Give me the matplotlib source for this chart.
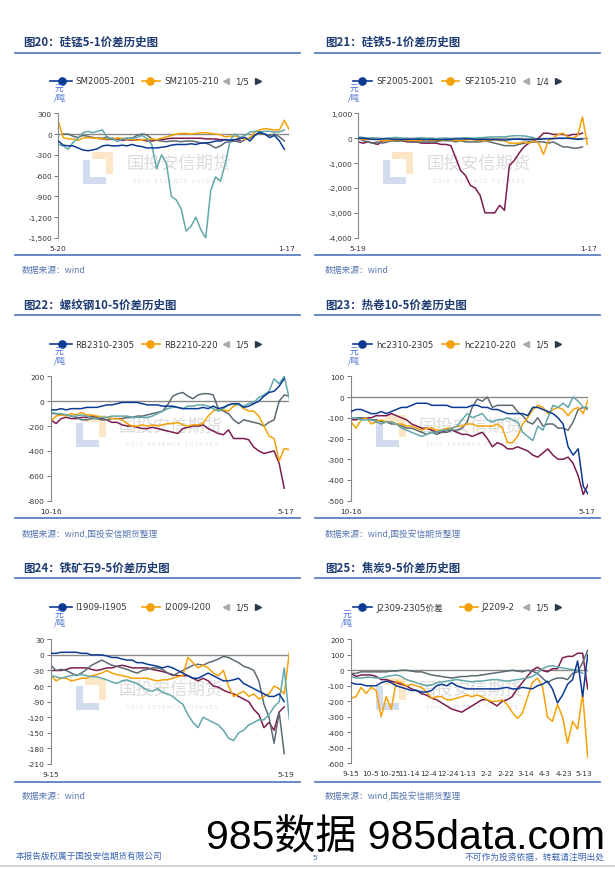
import numpy as np
import matplotlib
matplotlib.use('Agg')
import matplotlib.pyplot as plt
from matplotlib.lines import Line2D
from matplotlib.patches import Polygon
from matplotlib.ticker import FuncFormatter

plt.rcParams['font.family'] = ['DejaVu Sans', 'Noto Sans CJK SC']
plt.rcParams['axes.unicode_minus'] = False

nan = None

# ---------------- data ----------------
# Fig 20: silicon manganese 5-1 spread
sm_blue = [-100, -160, -170, -170, -200, -230, -240, -230, -210, -170, -160, -170, -170, -160, -170, -150,
           -170, -180, -200, -200, -200, -190, -180, -160, -150, -150, -150, -140, -150, -130, -130, -120,
           -100, -100, -80, -90, -80, -60, -50, -100, -20, 30, 0, -50, -20, -100, -220]
sm_orange = [180, -50, -70, -70, -90, -60, -50, -60, -60, -70, -70, -60, -60, -60, -70, -80, -90, -80, -80,
             -70, -80, -60, -40, -20, 0, 10, 10, 0, 10, 20, 20, 10, 0, -10, -40, -30, -30, -50, -80, -50,
             30, 60, 80, 70, 60, 60, 200, 60]
sm_maroon = [nan, nan, nan, nan, nan, nan, nan, nan, -60, -70, -80, -70, -70, -90, -80, -90, -80, -80, -100,
             -100, -90, -80, -70, -60, -60, -60, -60, -60, -60, -60, -70, -70, -70, -80, -80, -90, -80, -90]
sm_gray = [nan, 0, 0, -30, -50, -20, -30, -50, -60, -60, -40, -80, -60, -70, -60, -60, -20, 0, -10, -70, -90,
           -100, -110, -100, -100, -110, -100, -100, -110, -130, -130, -160, -200, -170, -120, -110, -100,
           -120, -80, -60, -10, 10, 0, -20, 0, -40, -100]
sm_teal = [-150, -170, -220, -120, -60, 20, 40, 20, 40, 60, -60, -60, -110, -70, -60, -60, -50, -20, -60,
           -150, -500, -300, -420, -900, -950, -1080, -1400, -1330, -1200, -1380, -1500, -820, -620, -680,
           -420, -80, 0, -50, -20, 30, 40, 30, 40, 40, 30, 30, 60]

# Fig 21: ferrosilicon 5-1 spread
sf_blue = [0, 0, -30, -50, -50, -30, -20, -50, -60, -50, -50, -40, -40, -50, -60, -50, -60, -60, -50, -40,
           -30, -30, -30, -30, -50, -50, -50, -60, -60, -60, -80, -60, -40, -40, -60, -60, -50, -50, -30,
           -20, -20, 0, 0, 0, -20, -50, -30]
sf_orange = [0, -50, -50, -30, -50, -100, -100, -80, -100, -50, -100, -80, -100, -100, -50, -100, -80, -100,
             -50, -50, -100, -100, -80, -50, -80, -100, -100, -100, -50, -100, -100, -200, -200, -200, -150,
             -200, -100, -200, -650, -100, 0, 150, 200, 50, 0, 100, 850, -250]
sf_maroon = [-150, -200, -150, -200, -250, -100, -100, -100, -100, -100, -150, -150, -150, -200, -200, -200,
             -200, -250, -250, -300, -800, -1300, -1500, -1900, -2000, -2300, -3000, -3000, -3000, -2700,
             -2900, -1100, -900, -600, -350, -200, -100, 0, 200, 200, 150, 150, 150, 100, 150, 150, 200]
sf_gray = [0, -100, -150, -200, -150, -200, -150, -100, -120, -100, -100, -150, -150, -150, -150, -150, -150,
           -100, -100, -100, -150, -100, -150, -150, -150, -150, -100, -150, -200, -250, -300, -300, -300,
           -250, -200, -150, -150, -150, -150, -200, -150, -250, -350, -350, -400, -400, -350]
sf_teal = [50, 30, 0, 20, 0, -20, 0, 20, 30, 0, 0, -20, 0, 20, 0, 0, -20, 0, 0, -20, 0, 0, 20, 0, 0, 20, 30,
           50, 50, 60, 50, 80, 100, 100, 90, 60, 20]

# Fig 22: rebar 10-5 spread
rb_blue = [-70, -70, -60, -70, -60, -60, -60, -50, -50, -50, -40, -30, -30, -20, -10, -10, -10, -10, -20, -30,
           -30, -30, -40, -40, -40, -50, -60, -60, -60, -60, -50, -60, -40, -60, -50, -30, -20, -20, -50, -40,
           -20, 0, 40, 70, 80, 120, 180]
rb_orange = [-160, -120, -110, -120, -100, -110, -90, -110, -110, -120, -130, -130, -140, -140, -150, -180,
             -200, -200, -190, -200, -190, -200, -190, -180, -180, -170, -190, -200, -190, -190, -180, -120,
             -80, -60, -70, -80, -40, -20, -60, -80, -80, -120, -200, -280, -300, -480, -380, -390]
rb_maroon = [-150, -180, -140, -130, -140, -140, -130, -130, -120, -130, -140, -150, -170, -170, -190, -200,
             -200, -210, -220, -220, -210, -220, -230, -240, -250, -260, -220, -210, -200, -200, -190, -220,
             -240, -260, -270, -230, -300, -300, -300, -310, -370, -400, -420, -410, -400, -500, -700]
rb_gray = [-100, -100, -110, -110, -120, -130, -150, -150, -140, -140, -150, -150, -140, -140, -140, -130,
           -130, -120, -120, -110, -100, -90, -80, -30, 40, 60, 70, 40, 20, 50, 60, 60, 50, -60, -80, -100,
           -150, -180, -150, -160, -170, -180, -200, -170, -150, 0, 50, 40]
rb_teal = [-90, -100, -100, -110, -120, -120, -110, -120, -130, -140, -130, -130, -120, -120, -120, -120,
           -130, -130, -130, -130, -120, -100, -80, -60, -50, -50, -60, -40, -40, -30, -30, -40, -60, -80,
           -60, -30, -20, -30, -40, -20, -10, 30, 50, 80, 180, 140, 200, 20]

# Fig 23: hot coil 10-5 spread
hc_blue = [-70, -60, -60, -70, -80, -80, -70, -80, -70, -60, -50, -50, -40, -30, -30, -30, -40, -40, -40,
           -40, -50, -50, -50, -50, -40, -40, -50, -50, -60, -60, -70, -80, -80, -80, -80, -90, -50, -50,
           -60, -70, -80, -100, -130, -240, -280, -250, -430, -470]
hc_orange = [-120, -150, -110, -100, -130, -120, -110, -120, -120, -130, -130, -140, -140, -150, -160, -150,
             -150, -160, -160, -150, -150, -140, -140, -130, -130, -140, -140, -140, -140, -130, -150, -220,
             -220, -190, -130, -100, -60, -40, -50, -80, -60, -50, -60, -90, -60, -50, -80, -10]
hc_maroon = [-110, -110, -100, -100, -100, -90, -90, -90, -80, -90, -100, -110, -130, -140, -150, -150, -160,
             -170, -170, -160, -160, -170, -180, -180, -190, -180, -170, -200, -240, -220, -230, -250, -250,
             -240, -250, -260, -280, -290, -270, -250, -280, -300, -300, -290, -320, -380, -470, -420]
hc_gray = [-100, -100, -100, -100, -110, -110, -120, -120, -130, -130, -140, -150, -150, -160, -170, -180,
           -170, -180, -170, -170, -160, -160, -150, -120, -50, -10, -20, 0, -50, -40, -40, -40, -40, -70,
           -90, -120, -130, -100, -140, -130, -130, -150, -150, -160, -120, -60, -50, -60]
hc_teal = [-100, -100, -110, -110, -110, -120, -130, -120, -120, -130, -150, -160, -170, -180, -190, -180,
           -170, -170, -160, -160, -150, -140, -110, -80, -100, -90, -80, -110, -120, -110, -110, -100, -110,
           -120, -170, -190, -210, -140, -160, -100, -40, -50, -30, -50, 0, -20, -50, -50]

# Fig 24: iron ore 9-5 spread
io_blue = [3, 3, 5, 5, 5, 5, 3, 3, 0, 0, 0, -2, -5, -5, -8, -10, -10, -15, -15, -18, -20, -22, -25, -22, -25,
           -30, -35, -40, -45, -45, -40, -35, -40, -45, -50, -50, -48, -45, -55, -60, -65, -70, -75, -80, -80,
           -75, -90]
io_orange = [-40, -50, -45, -45, -50, -48, -45, -45, -40, -38, -35, -30, -35, -38, -40, -42, -45, -45, -45,
             -45, -48, -50, -48, -48, -45, -42, -40, -5, -15, -25, -20, -25, -35, -40, -30, -60, -80, -75, -70,
             -80, -75, -85, -80, -75, -60, -65, -75, 5]
io_maroon = [-30, -30, -30, -28, -25, -25, -25, -25, -28, -30, -28, -25, -25, -22, -20, -22, -25, -25, -25,
             -25, -28, -30, -32, -35, -38, -40, -40, -40, -45, -50, -45, -50, -60, -62, -68, -72, -75, -80, -85,
             -90, -105, -115, -140, -130, -145, -110, -100]
io_gray = [-20, -30, -28, -30, -35, -40, -35, -28, -20, -15, -10, -15, -20, -22, -25, -28, -32, -35, -30, -28,
           -25, -25, -28, -35, -40, -35, -30, -25, -20, -18, -20, -15, -12, -8, -3, -5, -10, -15, -22, -25,
           -30, -50, -95, -120, -170, -110, -190]
io_teal = [-40, -42, -45, -42, -40, -38, -38, -40, -42, -42, -45, -48, -52, -55, -50, -48, -52, -55, -62, -68,
           -70, -65, -72, -75, -80, -88, -95, -115, -130, -140, -120, -125, -130, -135, -145, -160, -165, -150,
           -145, -135, -130, -125, -125, -115, -100, -90, -25, -125]

# Fig 25: coke 9-5 spread
j_blue = [-80, -90, -90, -100, -100, -100, -80, -70, -80, -100, -110, -120, -130, -130, -140, -140, -130, -100,
          -90, -100, -80, -100, -110, -120, -120, -120, -120, -120, -120, -120, -115, -110, -120, -120, -110,
          -115, -120, -100, -90, -70, -120, -210, -160, -90, -60, 60, -170, 100]
j_orange = [-180, -170, -110, -150, -110, -130, -300, -170, -250, -70, -80, -100, -90, -100, -110, -140, -180,
            -170, -170, -190, -190, -180, -170, -160, -170, -160, -170, -190, -200, -200, -190, -220, -270,
            -310, -280, -180, -80, -50, -100, -300, -330, -220, -300, -470, -330, -380, -150, -560]
j_maroon = [-20, -40, -30, -30, -30, -40, -60, -60, -70, -80, -90, -100, -120, -130, -150, -160, -180, -190,
            -210, -230, -250, -260, -270, -250, -230, -210, -190, -190, -210, -230, -200, -190, -170, -120, -80,
            -40, 0, 20, 0, -10, 10, 10, 80, 90, 90, 110, 110, -120]
j_gray = [-20, -20, -10, -10, -10, -10, -10, -10, -5, -5, 0, 0, -5, -10, -10, -20, -30, -35, -40, -45, -50, -45,
          -40, -40, -35, -35, -30, -25, -20, -15, -10, -5, 0, -5, -10, 0, -5, -20, -50, -80, -60, -50, -50, -60,
          -20, -10, 50, 130]
j_teal = [-40, -50, -50, -45, -45, -50, -50, -40, -35, -30, -40, -60, -70, -80, -90, -100, -95, -80, -75, -70,
          -65, -60, -65, -70, -75, -70, -70, -65, -60, -60, -65, -70, -65, -60, -55, -50, -40, -20, 10, 25, 30,
          20, 15, 10, 5, 0, -20]

# axis text
titles = ['图20：硅锰5-1价差历史图', '图21：硅铁5-1价差历史图', '图22：螺纹钢10-5价差历史图',
          '图23：热卷10-5价差历史图', '图24：铁矿石9-5价差历史图', '图25：焦炭9-5价差历史图']
sources = ['数据来源：wind', '数据来源：wind', '数据来源：wind,国投安信期货整理',
           '数据来源：wind,国投安信期货整理', '数据来源：wind', '数据来源：wind,国投安信期货整理']
legend_blue = ['SM2005-2001', 'SF2005-2001', 'RB2310-2305', 'hc2310-2305', 'I1909-I1905', 'J2309-2305价差']
legend_orange = ['SM2105-210', 'SF2105-210', 'RB2210-220', 'hc2210-220', 'I2009-I200', 'J2209-2']
pages = ['1/5', '1/4', '1/5', '1/5', '1/5', '1/5']
yticks_all = [[300, 0, -300, -600, -900, -1200, -1500],
              [1000, 0, -1000, -2000, -3000, -4000],
              [200, 0, -200, -400, -600, -800],
              [100, 0, -100, -200, -300, -400, -500],
              [30, 0, -30, -60, -90, -120, -150, -180, -210],
              [200, 100, 0, -100, -200, -300, -400, -500, -600]]
xlabels_two = [['5-20', '1-17'], ['5-19', '1-17'], ['10-16', '5-17'], ['10-16', '5-17'], ['9-15', '5-19']]
xlabel_pos_two = [[0, 46.5], [0, 47.2], [0, 46.3], [0, 46.7], [0, 46.3]]
j_xlabels = ['9-15', '10-5', '10-25', '11-14', '12-4', '12-24', '1-13', '2-2', '2-22', '3-14', '4-3',
             '4-23', '5-13']
j_xlabel_days = [0, 20, 40, 60, 80, 100, 120, 140, 160, 180, 200, 220, 240]
J_SPAN_DAYS = 244

series_all = [
    [sm_blue, sm_orange, sm_maroon, sm_gray, sm_teal],
    [sf_blue, sf_orange, sf_maroon, sf_gray, sf_teal],
    [rb_blue, rb_orange, rb_maroon, rb_gray, rb_teal],
    [hc_blue, hc_orange, hc_maroon, hc_gray, hc_teal],
    [io_blue, io_orange, io_maroon, io_gray, io_teal],
    [j_blue, j_orange, j_maroon, j_gray, j_teal],
]

# ---------------- style / layout ----------------
C_BLUE = '#0d3b94'
C_ORANGE = '#f5a20a'
C_MAROON = '#7b1d4e'
C_GRAY = '#5d6a72'
C_TEAL = '#62a8aa'
COLORS = [C_BLUE, C_ORANGE, C_MAROON, C_GRAY, C_TEAL]
ZORD = [3, 2.5, 2, 2.2, 2.8]
TITLE_C = '#1f3c73'
RULE_C = '#5b7fc0'
SRC_C = '#5a78b0'

W, H = 615, 870
fig = plt.figure(figsize=(6.15, 8.7), dpi=100)
CJK = ['Noto Sans CJK SC', 'DejaVu Sans']


def fx(x):
    return x / W


def fy(y):
    return 1 - y / H


def ftext(x, y, s, **kw):
    return fig.text(fx(x), fy(y), s, **kw)


def fline(x0, x1, y0, y1, **kw):
    fig.add_artist(Line2D([fx(x0), fx(x1)], [fy(y0), fy(y1)], transform=fig.transFigure, **kw))


# per panel geometry (pixels): axes L, T, R, B ; column origin; row y's
axes_px = [(58.3, 114.3, 289.3, 239.0), (358.3, 114.3, 588.3, 238.7),
           (51.0, 377.3, 289.3, 501.7), (351.0, 377.3, 588.3, 501.7),
           (51.0, 640.3, 289.3, 765.0), (351.0, 640.3, 587.7, 764.3)]
rows = [dict(title=42, rule=54, leg=82, yuan=88, dun=98, bot=256, src=271),
        dict(title=305, rule=316, leg=345, yuan=351, dun=361, bot=519, src=535),
        dict(title=568, rule=579, leg=608, yuan=614, dun=623, bot=783, src=797)]
cols = [dict(tx=23, r0=15, r1=300, src=22), dict(tx=325, r0=315, r1=600, src=325)]
leg_left = dict(l0=50, l1=72, m=62, lab=75, o0=142, o1=160, om=150, olab=164, tri1=226, pg=235, tri2=258,
                yuan=55, dun=54)
leg_right = dict(l0=353, l1=372, m=362, lab=376, o0=442, o1=459, om=450, olab=464, tri1=526, pg=535, tri2=558,
                 yuan=350, dun=348)
leg_j = dict(leg_right, o0=460, o1=478, om=468, olab=481, yuan=343, dun=341)
legs = [leg_left, leg_right, leg_left, leg_right, leg_left, leg_j]

for p in range(6):
    row = rows[p // 2]
    col = cols[p % 2]
    L, T, R, B = axes_px[p]
    # title, rules, source
    ftext(col['tx'], row['title'], titles[p], fontsize=8.3, fontweight='bold', color=TITLE_C,
          family=CJK, va='center', ha='left')
    fline(col['r0'], col['r1'], row['rule'], row['rule'], color=RULE_C, lw=1.3)
    fline(col['r0'], col['r1'], row['bot'], row['bot'], color=RULE_C, lw=1.3)
    ftext(col['src'], row['src'], sources[p], fontsize=6.3, color=SRC_C, family=CJK, va='center',
          ha='left', style='italic')

    # legend
    lg = legs[p]
    y = row['leg']
    fline(lg['l0'], lg['l1'], y, y, color=C_BLUE, lw=1.2)
    fig.add_artist(Line2D([fx(lg['m'])], [fy(y)], marker='o', ms=5.2, color=C_BLUE, transform=fig.transFigure))
    ftext(lg['lab'], y, legend_blue[p], fontsize=6.2, color='#333333', family=['DejaVu Sans', 'Noto Sans CJK SC'],
          va='center', ha='left')
    fline(lg['o0'], lg['o1'], y, y, color=C_ORANGE, lw=1.2)
    fig.add_artist(Line2D([fx(lg['om'])], [fy(y)], marker='o', ms=5.2, color=C_ORANGE, transform=fig.transFigure))
    ftext(lg['olab'], y, legend_orange[p], fontsize=6.2, color='#333333', va='center', ha='left')
    fig.add_artist(Line2D([fx(lg['tri1'])], [fy(y)], marker='<', ms=5, color='#aaaaaa', mec='#aaaaaa',
                          transform=fig.transFigure))
    ftext(lg['pg'], y, pages[p], fontsize=6.2, color='#333333', va='center', ha='left')
    fig.add_artist(Line2D([fx(lg['tri2'])], [fy(y)], marker='>', ms=5, color='#2b3a4e', mec='#2b3a4e',
                          transform=fig.transFigure))
    ftext(lg['yuan'], row['yuan'], '元', fontsize=6.3, color='#4a6fd0', family=CJK, va='center', ha='left')
    ftext(lg['dun'], row['dun'], '/吨', fontsize=6.3, color='#4a6fd0', family=CJK, va='center', ha='left')

    # watermark
    bx, by = L + 25, T + 47
    fig.add_artist(Polygon([(fx(bx + 9), fy(by - 8)), (fx(bx + 30), fy(by - 8)), (fx(bx + 30), fy(by + 14)),
                            (fx(bx + 23), fy(by + 14)), (fx(bx + 23), fy(by - 1)), (fx(bx + 9), fy(by - 1))],
                           closed=True, transform=fig.transFigure, fc='#fbe7c8', ec='none', zorder=-5))
    fig.add_artist(Polygon([(fx(bx), fy(by)), (fx(bx + 7), fy(by)), (fx(bx + 7), fy(by + 17)),
                            (fx(bx + 23), fy(by + 17)), (fx(bx + 23), fy(by + 24)), (fx(bx), fy(by + 24))],
                           closed=True, transform=fig.transFigure, fc='#d3dbef', ec='none', zorder=-5))
    ftext(L + 120, T + 49, '国投安信期货', fontsize=12.5, color='#dcdcdc', family=CJK, ha='center',
          va='center', zorder=-5)
    ftext(L + 121, T + 67, 'S D I C   E S S E N C E   F U T U R E S', fontsize=3.6, color='#dedede',
          ha='center', va='center', zorder=-5)

    # axes
    ax = fig.add_axes([fx(L), fy(B), (R - L) / W, (B - T) / H])
    ax.set_facecolor('none')
    data = series_all[p]
    for k, s in enumerate(data):
        v = np.array(s, dtype=float)
        if p == 5:
            x = np.linspace(0, J_SPAN_DAYS, 48)[:len(v)]
        else:
            x = np.arange(len(v))
        ax.plot(x, v, color=COLORS[k], lw=1.1, zorder=ZORD[k], solid_joinstyle='round')
    ax.axhline(0, color='#8a8a8a', lw=1.0, zorder=1)
    yt = yticks_all[p]
    ax.set_ylim(min(yt), max(yt))
    ax.set_yticks(yt)
    ax.yaxis.set_major_formatter(FuncFormatter(lambda v, pos: '{:,.0f}'.format(v)))
    if p == 5:
        ax.set_xlim(0, J_SPAN_DAYS)
        ax.set_xticks(j_xlabel_days)
        ax.set_xticklabels(j_xlabels)
        ax.tick_params(axis='x', labelsize=5.3, pad=5)
    else:
        ax.set_xlim(0, 47)
        ax.set_xticks(xlabel_pos_two[p])
        ax.set_xticklabels(xlabels_two[p])
        ax.tick_params(axis='x', labelsize=5.3, pad=5)
    ax.tick_params(axis='x', length=0, labelcolor='#333333')
    ax.tick_params(axis='y', length=3, width=0.7, color='#777777', labelsize=5.3, labelcolor='#333333', pad=1.5)
    for sp in ['top', 'right', 'bottom']:
        ax.spines[sp].set_visible(False)
    ax.spines['left'].set_color('#888888')
    ax.spines['left'].set_linewidth(0.8)

# footer
ftext(16, 856, '本报告版权属于国投安信期货有限公司', fontsize=6.2, color='#3b64b0', family=CJK, va='center', ha='left')
ftext(312, 858, '5', fontsize=5.2, color='#3b64b0', va='center', ha='left')
ftext(605, 857, '不可作为投资依据，转载请注明出处', fontsize=6.3, color='#3b64b0', family=CJK, va='center', ha='right')
ftext(206, 838, '985数据 985data.com', fontsize=29.5, color='black', family=['Liberation Sans', 'Noto Sans CJK SC'],
      va='center', ha='left', zorder=-3)
fline(0, 615, 867, 867, color='#cccccc', lw=1.2)

fig.savefig('out.png', dpi=100)
